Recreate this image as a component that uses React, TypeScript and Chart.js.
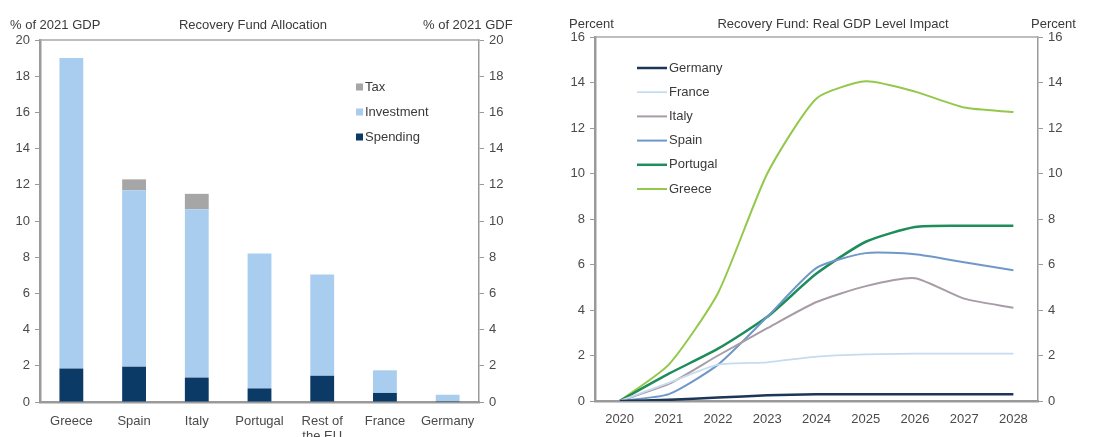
import React, { useEffect, useRef } from "react";
import { Chart, registerables } from "chart.js";
Chart.register(...registerables);

// ---------- Left chart data ----------
const barCategories: (string | string[])[] = ["Greece", "Spain", "Italy", "Portugal", ["Rest of", "the EU"], "France", "Germany"];
const spending = [1.85, 1.95, 1.35, 0.75, 1.45, 0.5, 0.05];
const investment = [17.15, 9.75, 9.3, 7.45, 5.6, 1.25, 0.35];
const tax = [0, 0.6, 0.85, 0, 0, 0, 0];

// ---------- Right chart data ----------
const years = ["2020", "2021", "2022", "2023", "2024", "2025", "2026", "2027", "2028"];
const germany = [0, 0.05, 0.15, 0.25, 0.3, 0.3, 0.3, 0.3, 0.3];
const france = [0, 0.8, 1.6, 1.7, 1.95, 2.05, 2.08, 2.08, 2.08];
const italy = [0, 0.75, 2.0, 3.2, 4.35, 5.05, 5.4, 4.5, 4.1];
const spain = [0, 0.3, 1.6, 3.7, 5.85, 6.5, 6.45, 6.1, 5.75];
const portugal = [0, 1.2, 2.3, 3.7, 5.6, 7.0, 7.65, 7.7, 7.7];
const greece = [0, 1.6, 4.75, 10.0, 13.3, 14.05, 13.6, 12.9, 12.7];

const FONT = "'Liberation Sans', Arial, sans-serif";
const TEXT = "#3a3a3a";
const TICK = "#4a4a4a";
const AXIS = "#9a9a9a";

const decorPlugin = {
  id: "decor",
  afterDraw(chart: any, _args: any, opts: any) {
    const { ctx, chartArea: a } = chart;
    ctx.save();
    // top frame line
    ctx.strokeStyle = "#a8a8a8";
    ctx.lineWidth = 1.5;
    ctx.beginPath();
    ctx.moveTo(a.left, a.top);
    ctx.lineTo(a.right, a.top);
    ctx.stroke();
    // header texts
    ctx.font = `13px ${FONT}`;
    ctx.fillStyle = TEXT;
    ctx.textBaseline = "middle";
    ctx.textAlign = "left";
    ctx.fillText(opts.leftLabel, opts.leftX, opts.headerY);
    ctx.textAlign = "center";
    ctx.fillText(opts.title, opts.titleX, opts.headerY);
    ctx.textAlign = "left";
    ctx.fillText(opts.rightLabel, opts.rightX, opts.headerY);
    // legend
    const ds = chart.data.datasets.map((d: any) => d);
    const items = opts.reverse ? ds.slice().reverse() : ds;
    items.forEach((d: any, i: number) => {
      const y = opts.legendY + i * opts.legendStep;
      const col = d.borderColor || d.backgroundColor;
      if (opts.type === "box") {
        ctx.fillStyle = d.backgroundColor;
        ctx.fillRect(opts.legendX, y - 3.5, 7, 7);
        ctx.fillStyle = TEXT;
        ctx.textAlign = "left";
        ctx.fillText(d.label, opts.legendX + 9, y);
      } else {
        ctx.strokeStyle = col;
        ctx.lineWidth = d.borderWidth;
        ctx.beginPath();
        ctx.moveTo(opts.legendX, y);
        ctx.lineTo(opts.legendX + 30, y);
        ctx.stroke();
        ctx.fillStyle = TEXT;
        ctx.textAlign = "left";
        ctx.fillText(d.label, opts.legendX + 32, y);
      }
    });
    ctx.restore();
  },
};

function yAxis(position: "left" | "right", max: number, width: number, borderWidth: number) {
  return {
    type: "linear" as const,
    position,
    min: 0,
    max,
    stacked: true,
    ticks: { stepSize: 2, color: TICK, font: { family: FONT, size: 13 }, padding: 5 },
    grid: { display: true, drawOnChartArea: false, drawTicks: true, tickLength: 5, color: AXIS, lineWidth: 1 },
    border: { display: true, color: AXIS, width: borderWidth },
    afterFit(scale: any) {
      scale.width = width;
    },
  };
}

function xAxis(height: number, padding: number) {
  return {
    stacked: true,
    offset: true,
    ticks: { color: TICK, font: { family: FONT, size: 13, lineHeight: 1.15 }, padding, maxRotation: 0, autoSkip: false },
    grid: { display: false },
    border: { display: true, color: AXIS, width: 2.5 },
    afterFit(scale: any) {
      scale.height = height;
    },
  };
}

export default function App() {
  const leftRef = useRef<HTMLCanvasElement>(null);
  const rightRef = useRef<HTMLCanvasElement>(null);

  useEffect(() => {
    const left = new Chart(leftRef.current!, {
      type: "bar",
      data: {
        labels: barCategories as any,
        datasets: [
          { label: "Spending", data: spending, backgroundColor: "#0b3a66", stack: "s", barPercentage: 0.38, categoryPercentage: 1 },
          { label: "Investment", data: investment, backgroundColor: "#a9cdee", stack: "s", barPercentage: 0.38, categoryPercentage: 1 },
          { label: "Tax", data: tax, backgroundColor: "#a6a6a6", stack: "s", barPercentage: 0.38, categoryPercentage: 1 },
        ],
      },
      options: {
        responsive: false,
        animation: false,
        devicePixelRatio: 1,
        layout: { padding: { top: 40, left: 0, right: 0, bottom: 0 } },
        plugins: {
          legend: { display: false },
          tooltip: { enabled: false },
          decor: {
            leftLabel: "% of 2021 GDP",
            leftX: 10,
            title: "Recovery Fund Allocation",
            titleX: 253,
            rightLabel: "% of 2021 GDF",
            rightX: 423,
            headerY: 25,
            type: "box",
            reverse: true,
            legendX: 356,
            legendY: 87,
            legendStep: 25,
          },
        } as any,
        scales: {
          x: xAxis(35, 4) as any,
          y: yAxis("left", 20, 40, 2.5) as any,
          y2: yAxis("right", 20, 76, 1.5) as any,
        },
      },
      plugins: [decorPlugin],
    });

    const mk = (label: string, data: number[], color: string, w: number) => ({
      label,
      data,
      borderColor: color,
      backgroundColor: color,
      borderWidth: w,
      pointRadius: 0,
      tension: 0.2,
      fill: false,
    });

    const right = new Chart(rightRef.current!, {
      type: "line",
      data: {
        labels: years,
        datasets: [
          mk("Germany", germany, "#1d3658", 2.5),
          mk("France", france, "#c6dbf0", 1.8),
          mk("Italy", italy, "#a89ca6", 2),
          mk("Spain", spain, "#6f98c9", 2),
          mk("Portugal", portugal, "#1f8c5c", 2.5),
          mk("Greece", greece, "#93c84b", 2),
        ],
      },
      options: {
        responsive: false,
        animation: false,
        devicePixelRatio: 1,
        layout: { padding: { top: 37, left: 0, right: 0, bottom: 0 } },
        plugins: {
          legend: { display: false },
          tooltip: { enabled: false },
          decor: {
            leftLabel: "Percent",
            leftX: 14,
            title: "Recovery Fund: Real GDP Level Impact",
            titleX: 278,
            rightLabel: "Percent",
            rightX: 476,
            headerY: 24,
            type: "line",
            reverse: false,
            legendX: 82,
            legendY: 68,
            legendStep: 24.2,
          },
        } as any,
        scales: {
          x: { ...(xAxis(36, 3) as any), stacked: false },
          y: { ...(yAxis("left", 16, 40, 2.5) as any), stacked: false },
          y2: { ...(yAxis("right", 16, 77, 1.5) as any), stacked: false },
        },
      },
      plugins: [decorPlugin],
    });

    return () => {
      left.destroy();
      right.destroy();
    };
  }, []);

  return (
    <div style={{ position: "fixed", left: 0, top: 0, width: 1115, height: 437, background: "#fff", overflow: "hidden" }}>
      <canvas ref={leftRef} width={555} height={437} style={{ position: "absolute", left: 0, top: 0, width: 555, height: 437 }} />
      <canvas ref={rightRef} width={560} height={437} style={{ position: "absolute", left: 555, top: 0, width: 560, height: 437 }} />
    </div>
  );
}
